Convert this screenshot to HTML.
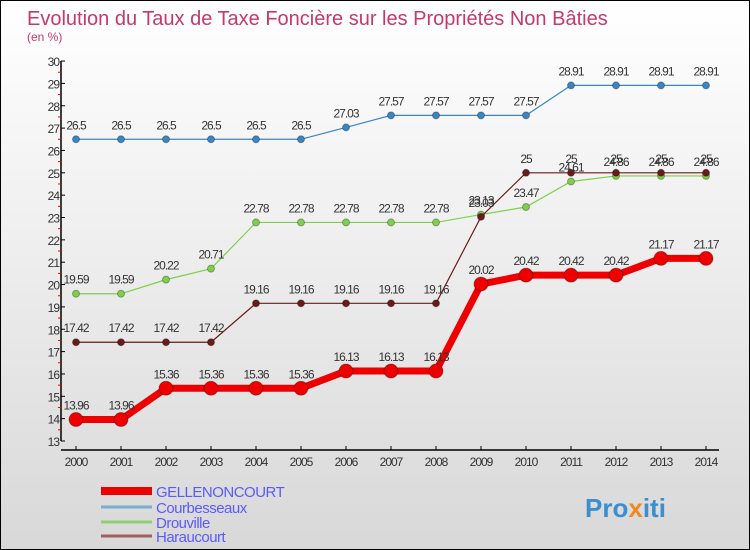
<!DOCTYPE html>
<html><head><meta charset="utf-8"><style>
body{margin:0}
#c{width:748px;height:548px;border:1px solid #000;background:linear-gradient(#fff 0%,#f0f0f0 40%,#d8d8d8 100%);position:relative;overflow:hidden;font-family:"Liberation Sans",sans-serif}
</style></head><body>
<div id="c">
<svg id="s" width="748" height="548"></svg>
</div>
<script>
const years=[2000,2001,2002,2003,2004,2005,2006,2007,2008,2009,2010,2011,2012,2013,2014];
const gellen=[13.96,13.96,15.36,15.36,15.36,15.36,16.13,16.13,16.13,20.02,20.42,20.42,20.42,21.17,21.17];
const courb=[26.5,26.5,26.5,26.5,26.5,26.5,27.03,27.57,27.57,27.57,27.57,28.91,28.91,28.91,28.91];
const drouv=[19.59,19.59,20.22,20.71,22.78,22.78,22.78,22.78,22.78,23.13,23.47,24.61,24.86,24.86,24.86];
const harau=[17.42,17.42,17.42,17.42,19.16,19.16,19.16,19.16,19.16,23.03,25,25,25,25,25];
const yTicks=[13,14,15,16,17,18,19,20,21,22,23,24,25,26,27,28,29,30];
const legendNames=["GELLENONCOURT","Courbesseaux","Drouville","Haraucourt"];
const NS="http://www.w3.org/2000/svg",s=document.getElementById('s');
const X=i=>75+i*45, Y=v=>440-(v-13)*22.35;
function el(t,a,txt,p){const e=document.createElementNS(NS,t);for(const k in a)e.setAttribute(k,a[k]);if(txt!==undefined)e.textContent=txt;(p||s).appendChild(e);return e;}
let e;
e=el('text',{x:26,y:24,'font-size':20,fill:'#c8386a'},'Evolution du Taux de Taxe Foncière sur les Propriétés Non Bâties');

e=el('text',{x:26,y:40,'font-size':12,fill:'#c8386a'},'(en %)');

e=el('line',{x1:60,y1:Y(30),x2:60,y2:Y(13),stroke:'#000','stroke-width':1.5});

yTicks.forEach(v=>{el('line',{x1:60,y1:Y(v),x2:64,y2:Y(v),stroke:'#000'});
 if(v<30)el('line',{x1:57,y1:Y(v+0.5),x2:60,y2:Y(v+0.5),stroke:'#e00'});
 e=el('text',{x:58,y:Y(v)+5,'font-size':12,fill:'#333','text-anchor':'end','letter-spacing':'-1'},v);
 });
e=el('line',{x1:60,y1:449,x2:718,y2:449,stroke:'#000','stroke-width':1.5});

years.forEach((y,i)=>{el('line',{x1:X(i),y1:445,x2:X(i),y2:449,stroke:'#000'});
 e=el('text',{x:X(i),y:465,'font-size':12,fill:'#333','text-anchor':'middle','letter-spacing':'-1'},y);
 });
function series(data,color,lw,r,name){
 e=el('polyline',{points:data.map((v,i)=>X(i)+','+Y(v)).join(' '),fill:'none',stroke:color,'stroke-width':lw});
 
 data.forEach((v,i)=>{e=el('circle',{cx:X(i),cy:Y(v),r:r,fill:color,stroke:'rgba(0,0,0,0.3)','stroke-width':1});
  
  e=el('text',{x:X(i),y:Y(v)-10,'font-size':12,fill:'#333','text-anchor':'middle','letter-spacing':'-1'},v);
  });
}
series(courb,'#3a86c2',1.2,3.5,'courbesseaux');
series(drouv,'#7ed04a',1.2,3.5,'drouville');
series(harau,'#6b1a1a',1.2,3.5,'haraucourt');
series(gellen,'#ee0000',7,7,'gellenoncourt');
const lc=['#ee0000','#7aaecf','#90d070','#a06060'],lw=[8,3,3,3],ly=[492,508,523,537];
legendNames.forEach((n,i)=>{e=el('line',{x1:100,y1:ly[i]-2,x2:151,y2:ly[i]-2,stroke:lc[i],'stroke-width':lw[i]});
 
 e=el('text',{x:155,y:ly[i]+4,'font-size':15,fill:'#5a5aff','letter-spacing':'-0.5'},n);
 });
e=el('text',{x:584,y:516,'font-size':26,'font-weight':'bold',fill:'#3a8fd0'});

el('tspan',{},'Pro',e);el('tspan',{fill:'#f08a20'},'x',e);el('tspan',{},'iti',e);
</script>
</body></html>
